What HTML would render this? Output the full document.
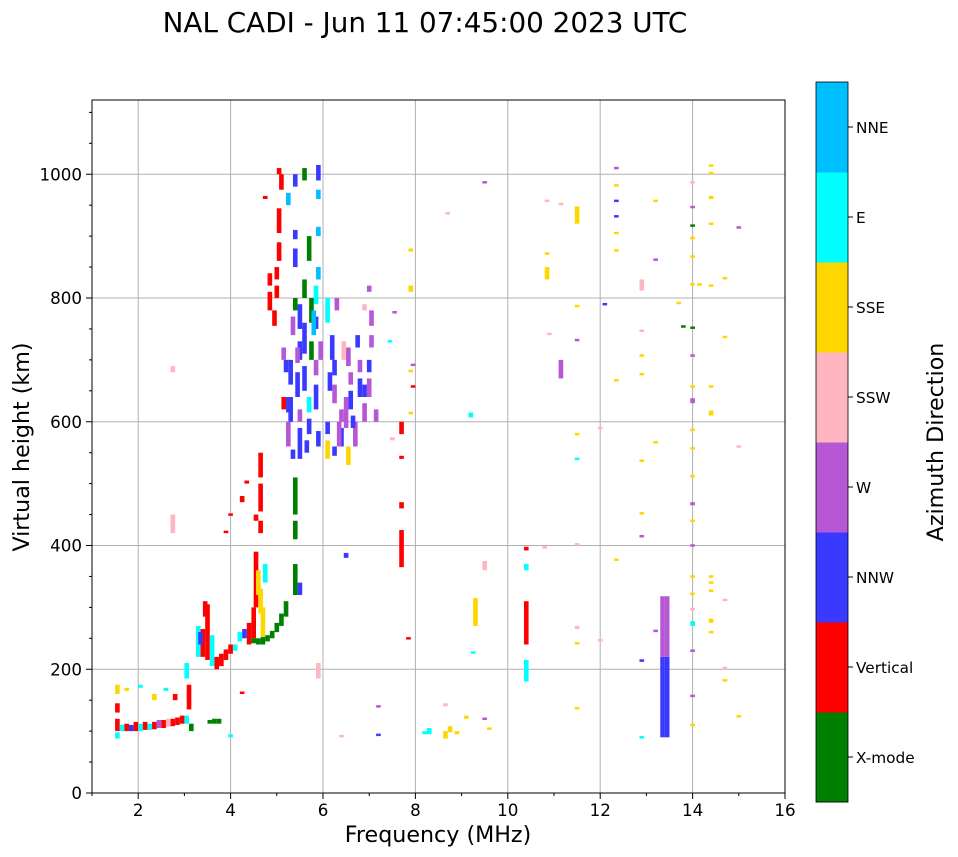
<!DOCTYPE html>
<html><head><meta charset="utf-8"><style>
html,body{margin:0;padding:0;background:#fff;width:958px;height:857px;overflow:hidden}
svg{font-family:"DejaVu Sans","Liberation Sans",sans-serif}
</style></head><body>
<svg id="chart" width="958" height="857" xmlns="http://www.w3.org/2000/svg">
<text x="425" y="32" font-size="27.8" text-anchor="middle">NAL CADI - Jun 11 07:45:00 2023 UTC</text>
<g id="grid"></g>
<g id="marks"></g>
<rect x="92" y="100" width="693" height="693" fill="none" stroke="#000" stroke-width="1"/>
<g id="axes"></g>
<text x="438" y="842" font-size="22.2" text-anchor="middle">Frequency (MHz)</text>
<text transform="translate(29,447) rotate(-90)" font-size="22.2" text-anchor="middle">Virtual height (km)</text>
<g id="cbar"></g>
<text transform="translate(943,442) rotate(-90)" font-size="22.2" text-anchor="middle">Azimuth Direction</text>
</svg>
<script>
const dirNames=["X-mode","Vertical","NNW","W","SSW","SSE","E","NNE"];
const dirColors=["#008000","#ff0000","#3a3aff","#b657d6","#ffb6c1","#ffd700","#00ffff","#00bfff"];
const xTicks=[2,4,6,8,10,12,14,16];
const yTicks=[0,200,400,600,800,1000];
const echoes=[
[1.55,100,120,1],[1.55,130,145,1],[1.55,160,175,5],[1.55,88,98,6],[1.65,100,110,6],[1.75,100,112,1],[1.85,100,110,2],[1.95,100,115,1],[2.05,100,112,6],[2.15,102,115,1],[2.25,102,112,6],[2.35,103,115,1],[2.45,105,118,3],[2.55,105,118,1],[2.65,107,120,4],[2.75,108,120,1],[2.85,110,122,1],[2.95,112,125,1],[3.05,112,125,6],[3.1,135,175,1],[3.15,100,112,0],[3.55,112,118,0],[3.65,112,120,0],[3.75,112,120,0],[2.35,150,160,5],[2.6,165,170,6],[2.8,150,160,1],[2.05,170,175,6],[1.75,165,170,5],[3.05,185,210,6],[2.75,420,450,4],[2.75,680,690,4],
[3.3,220,270,6],[3.4,220,265,1],[3.5,215,305,1],[3.6,205,255,6],[3.7,200,220,1],[3.8,205,225,1],[3.9,215,232,1],[4.0,225,240,1],[4.1,230,240,6],[3.35,240,260,2],[3.45,285,310,1],[4.25,160,163,1],[4.0,90,95,6],
[4.5,250,300,1],[4.55,300,390,1],[4.6,320,360,5],[4.65,290,330,5],[4.7,250,300,5],[4.4,240,275,1],[4.3,250,265,2],[4.2,245,260,6],[4.75,340,370,6],
[4.5,242,250,0],[4.6,240,250,0],[4.7,240,252,0],[4.8,245,255,0],[4.9,250,262,0],[5.0,260,275,0],[5.1,270,290,0],[5.2,285,310,0],[5.4,320,370,0],[5.4,410,440,0],[5.4,450,510,0],[5.5,320,340,2],
[4.65,420,440,1],[4.65,455,500,1],[4.65,510,550,1],[4.35,500,505,1],[4.55,440,450,1],[4.25,470,480,1],[3.9,420,423,1],[4.0,448,450,1],
[5.05,1000,1010,1],[5.1,975,1000,1],[5.05,860,890,1],[5.05,905,945,1],[5.0,800,820,1],[5.0,830,850,1],[4.85,780,810,1],[4.85,820,840,1],[4.95,755,780,1],[4.75,960,965,1],
[5.9,990,1015,2],[5.9,960,975,7],[5.9,900,915,7],[5.9,830,850,7],[5.85,790,820,6],[5.85,750,770,2],[5.75,700,730,0],[5.75,760,800,0],[5.6,650,690,2],[5.6,710,760,2],[5.5,700,730,2],[5.5,750,790,2],[5.4,850,880,2],[5.4,895,910,2],[5.4,780,800,0],[5.45,640,680,2],[5.45,695,720,3],[5.3,600,640,2],[5.3,660,700,2],[5.25,560,600,3],[5.25,615,640,2],[5.5,560,590,2],[5.5,600,620,3],[5.7,580,605,2],[5.7,615,640,6],[5.85,620,660,2],[5.85,675,700,3],[5.6,800,830,0],[5.7,860,900,0],[5.6,990,1010,0],[5.25,950,970,7],[5.4,980,1000,2],[5.9,560,585,2],[5.5,540,560,2],[5.8,740,780,7],[5.95,700,730,3],[5.2,680,700,2],[5.35,740,770,3],[5.15,620,640,1],[5.65,550,570,2],[5.35,540,555,2],[5.15,700,720,3],
[6.1,760,800,6],[6.2,700,740,2],[6.25,630,660,3],[6.25,675,700,2],[6.4,560,590,2],[6.4,600,620,3],[6.5,590,640,3],[6.6,620,650,2],[6.6,660,680,3],[6.7,560,600,3],[6.8,640,670,2],[6.8,680,700,3],[6.9,600,630,3],[6.9,640,660,2],[7.0,640,670,3],[7.0,680,700,2],[7.05,720,740,3],[7.05,755,780,3],[6.45,700,730,4],[6.3,780,800,3],[6.55,530,560,5],[7.15,600,620,3],[6.35,560,600,3],[6.15,650,680,2],[6.55,690,720,3],[6.75,720,740,2],[6.9,780,790,4],[7.0,810,820,3],[6.1,540,570,5],[6.1,580,600,2],[6.5,380,388,2],[5.9,185,210,4],[6.65,590,610,2],[6.25,545,560,2],
[7.7,365,425,1],[7.7,460,470,1],[7.7,540,545,1],[7.7,580,600,1],[7.5,570,575,4],[7.55,775,778,3],[7.45,728,730,6],[7.9,612,616,5],[7.9,680,683,5],[7.9,810,820,5],[7.9,875,880,5],[7.85,248,250,1],[7.95,655,658,1],[7.95,690,692,3],[7.2,92,95,2],[7.2,138,140,3],
[8.2,95,100,6],[8.3,95,105,6],[8.65,88,100,5],[8.75,98,108,5],[8.9,95,100,5],[8.65,140,145,4],[9.1,120,125,5],[9.3,270,315,5],[9.2,607,615,6],[9.25,225,228,6],[8.7,935,938,4],[9.5,985,988,3],[9.5,118,120,3],[9.6,102,104,5],[9.5,360,375,4],[6.4,90,92,4],
[10.4,180,215,6],[10.4,240,310,1],[10.4,360,370,6],[10.4,392,398,1],
[10.8,395,398,4],[10.85,830,850,5],[10.9,740,742,4],[10.85,955,957,4],[10.85,870,873,5],[11.15,670,700,3],[11.15,950,952,4],[11.5,920,948,5],[11.5,785,788,5],[11.5,730,732,3],[11.5,578,580,5],[11.5,538,540,6],[11.5,400,402,4],[11.5,265,270,4],[11.5,240,242,5],[11.5,135,137,5],[12.0,588,590,4],[12.0,245,247,4],[12.1,788,790,2],
[12.35,1008,1010,3],[12.35,980,983,5],[12.35,955,958,2],[12.35,930,933,2],[12.35,903,906,5],[12.35,875,878,5],[12.35,665,668,5],[12.35,375,378,5],
[12.9,812,830,4],[12.9,745,747,4],[12.9,705,708,5],[12.9,675,678,5],[12.9,535,538,5],[12.9,450,452,5],[12.9,413,415,3],[12.9,212,215,2],[12.9,88,90,6],[13.2,955,958,5],[13.2,860,863,3],[13.2,565,568,5],[13.2,260,263,3],
[13.35,90,220,2],[13.45,90,220,2],[13.35,220,318,3],[13.45,220,318,3],
[14.0,985,988,4],[14.0,945,948,3],[14.0,915,918,0],[14.0,895,898,5],[14.0,865,868,5],[14.0,820,823,5],[14.0,750,753,0],[14.0,705,708,3],[14.0,655,658,5],[14.0,630,638,3],[14.0,585,588,5],[14.0,555,558,5],[14.0,510,513,5],[14.0,465,470,3],[14.0,438,440,5],[14.0,398,400,3],[14.0,348,352,5],[14.0,320,322,5],[14.0,295,297,4],[14.0,270,278,6],[14.0,228,230,3],[14.0,155,158,3],[14.0,108,110,5],[13.8,752,755,0],[13.7,790,792,5],[14.15,820,822,5],
[14.4,1012,1015,5],[14.4,1000,1003,5],[14.4,960,965,5],[14.4,918,920,5],[14.4,818,820,5],[14.4,655,658,5],[14.4,610,618,5],[14.4,348,350,5],[14.4,338,340,5],[14.4,325,327,5],[14.4,275,282,5],[14.4,258,260,5],[14.7,830,833,5],[14.7,735,737,5],[14.7,310,312,4],[14.7,200,202,4],[14.7,180,182,5],[15.0,912,914,3],[15.0,558,560,4],[15.0,122,124,5]
];
const NS="http://www.w3.org/2000/svg";
const X0=92,X1=785,Y0=793,Y1=100,FMIN=1,FMAX=16,HMIN=0,HMAX=1120;
function xs(f){return X0+(f-FMIN)/(FMAX-FMIN)*(X1-X0);}
function ys(h){return Y0-(h-HMIN)/(HMAX-HMIN)*(Y0-Y1);}
function mk(tag,attrs,parent,txt){const e=document.createElementNS(NS,tag);for(const k in attrs)e.setAttribute(k,attrs[k]);if(txt!==undefined)e.textContent=txt;parent.appendChild(e);return e;}
const grid=document.getElementById('grid'),axes=document.getElementById('axes'),marks=document.getElementById('marks'),cbar=document.getElementById('cbar');
xTicks.forEach(t=>{
  if(t<FMAX){const g=mk('line',{x1:xs(t),x2:xs(t),y1:Y1,y2:Y0,stroke:'#b0b0b0','stroke-width':1},grid);
  
  }
  const tk=mk('line',{x1:xs(t),x2:xs(t),y1:Y0,y2:Y0+6,stroke:'#000'},axes);
  
  
  const l=mk('text',{x:xs(t),y:Y0+23,'font-size':16.7,'text-anchor':'middle'},axes,String(t));
  
  
});
for(let f=1;f<=16;f+=2){const m=mk('line',{x1:xs(f),x2:xs(f),y1:Y0,y2:Y0+3,stroke:'#000'},axes);
  
  }
yTicks.forEach(t=>{
  if(t>0){const g=mk('line',{x1:X0,x2:X1,y1:ys(t),y2:ys(t),stroke:'#b0b0b0','stroke-width':1},grid);
  
  }
  const tk=mk('line',{x1:X0-6,x2:X0,y1:ys(t),y2:ys(t),stroke:'#000'},axes);
  
  
  const l=mk('text',{x:X0-10,y:ys(t)+6,'font-size':16.7,'text-anchor':'end'},axes,String(t));
  
  
});
for(let h=50;h<=1100;h+=50){if(h%200===0)continue;const m=mk('line',{x1:X0-3,x2:X0,y1:ys(h),y2:ys(h),stroke:'#000'},axes);
  
  }
const bw=xs(1.1)-xs(1);
echoes.forEach(e=>{
  const [f,h0,h1,d]=e;
  const top=ys(Math.max(h1,h0+4)),bot=ys(h0);
  const r=mk('rect',{x:xs(f)-bw/2,y:top,width:bw,height:Math.max(bot-top,2.5),fill:dirColors[d]},marks);
  
  
});
const CX=816,CW=32,CT=82,CB=802,seg=(CB-CT)/dirNames.length;
dirNames.forEach((n,i)=>{
  const y=CB-(i+1)*seg;
  const r=mk('rect',{x:CX,y:y,width:CW,height:seg+0.5,fill:dirColors[i]},cbar);
  
  
  const tk=mk('line',{x1:CX+CW,x2:CX+CW+5,y1:y+seg/2,y2:y+seg/2,stroke:'#000'},cbar);
  
  
  const l=mk('text',{x:CX+CW+8,y:y+seg/2+6,'font-size':15.3},cbar,n);
  
  
});
const fr=mk('rect',{x:CX,y:CT,width:CW,height:CB-CT,fill:'none',stroke:'#000','stroke-width':0.8},cbar);


</script>
</body></html>
